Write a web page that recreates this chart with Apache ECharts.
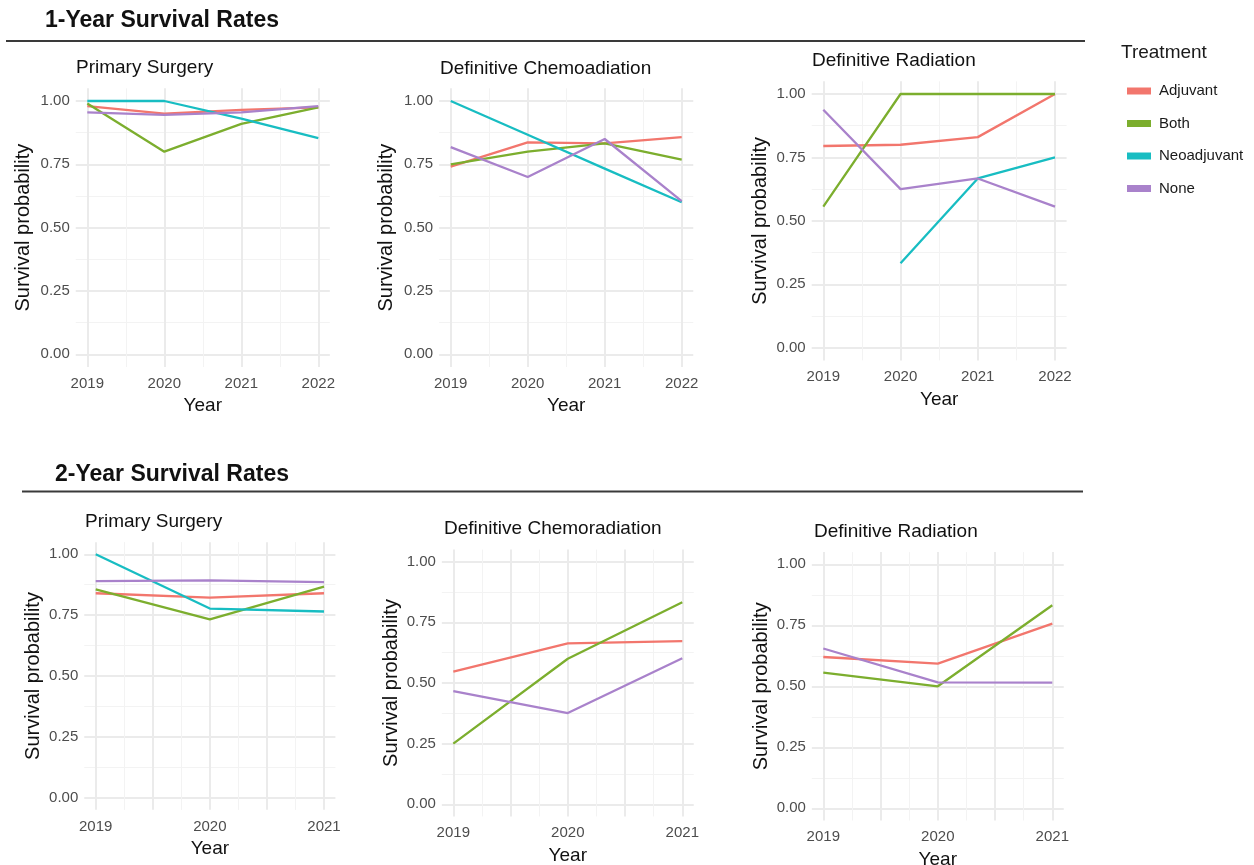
<!DOCTYPE html>
<html><head><meta charset="utf-8">
<script src="https://cdn.jsdelivr.net/npm/echarts@6/dist/echarts.min.js"></script>
<style>html,body{margin:0;padding:0;background:#fff}#c{width:1254px;height:865px}</style>
</head><body><div id="c"></div>
<script>
// ---------------- DATA ----------------
const treatments = ['Adjuvant', 'Both', 'Neoadjuvant', 'None'];
const years1 = [2019, 2020, 2021, 2022];
const years2 = [2019, 2020, 2021];
const yTickValues = [0, 0.25, 0.5, 0.75, 1];

const sectionTitles = ['1-Year Survival Rates', '2-Year Survival Rates'];
const panelTitles = ['Primary Surgery', 'Definitive Chemoadiation', 'Definitive Radiation',
                     'Primary Surgery', 'Definitive Chemoradiation', 'Definitive Radiation'];

// 1-year, Primary Surgery
const y1Surg_Adjuvant    = [0.98, 0.95, 0.965, 0.975];
const y1Surg_Both        = [0.99, 0.80, 0.91, 0.975];
const y1Surg_Neoadjuvant = [1.00, 1.00, 0.93, 0.853];
const y1Surg_None        = [0.955, 0.945, 0.955, 0.98];
// 1-year, Definitive Chemoradiation
const y1Chemo_Adjuvant    = [0.741, 0.837, 0.833, 0.857];
const y1Chemo_Both        = [0.75, 0.80, 0.833, 0.769];
const y1Chemo_Neoadjuvant = [1.00, 0.867, 0.733, 0.60];
const y1Chemo_None        = [0.818, 0.70, 0.85, 0.605];
// 1-year, Definitive Radiation
const y1Rad_Adjuvant    = [0.795, 0.80, 0.83, 1.00];
const y1Rad_Both        = [0.556, 1.00, 1.00, 1.00];
const y1Rad_Neoadjuvant = [null, 0.333, 0.667, 0.75];
const y1Rad_None        = [0.938, 0.625, 0.667, 0.556];
// 2-year, Primary Surgery
const y2Surg_Adjuvant    = [0.84, 0.822, 0.84];
const y2Surg_Both        = [0.856, 0.733, 0.867];
const y2Surg_Neoadjuvant = [1.00, 0.777, 0.765];
const y2Surg_None        = [0.89, 0.893, 0.886];
// 2-year, Definitive Chemoradiation
const y2Chemo_Adjuvant    = [0.547, 0.663, 0.673];
const y2Chemo_Both        = [0.25, 0.60, 0.833];
const y2Chemo_Neoadjuvant = [null, null, null];
const y2Chemo_None        = [0.467, 0.376, 0.602];
// 2-year, Definitive Radiation
const y2Rad_Adjuvant    = [0.62, 0.593, 0.757];
const y2Rad_Both        = [0.556, 0.50, 0.832];
const y2Rad_Neoadjuvant = [null, null, null];
const y2Rad_None        = [0.655, 0.516, 0.515];

// ---------------- STYLE / LAYOUT ----------------
const colors = ['#F2766D', '#7CAE2E', '#18BDC2', '#A982CB'];
const FONT = 'Liberation Sans, Arial, sans-serif';

const panels = [
  {years: years1, series: [y1Surg_Adjuvant, y1Surg_Both, y1Surg_Neoadjuvant, y1Surg_None],
   x0: 87.3, x1: 318.3, yTop: 101, yBot: 354.3, tX: 76, tY: 67.5, yTX: 23.3, xInt: 1},
  {years: years1, series: [y1Chemo_Adjuvant, y1Chemo_Both, y1Chemo_Neoadjuvant, y1Chemo_None],
   x0: 450.7, x1: 681.7, yTop: 101, yBot: 354.3, tX: 440, tY: 68.3, yTX: 386.7, xInt: 1},
  {years: years1, series: [y1Rad_Adjuvant, y1Rad_Both, y1Rad_Neoadjuvant, y1Rad_None],
   x0: 823.3, x1: 1055, yTop: 94, yBot: 347.7, tX: 812, tY: 60.8, yTX: 760, xInt: 1},
  {years: years2, series: [y2Surg_Adjuvant, y2Surg_Both, y2Surg_Neoadjuvant, y2Surg_None],
   x0: 95.7, x1: 324, yTop: 554.3, yBot: 797.7, tX: 85, tY: 521.5, yTX: 33.3, xInt: 0.5},
  {years: years2, series: [y2Chemo_Adjuvant, y2Chemo_Both, y2Chemo_Neoadjuvant, y2Chemo_None],
   x0: 453.3, x1: 682.3, yTop: 561.7, yBot: 804.3, tX: 444, tY: 528.3, yTX: 391.7, xInt: 0.5},
  {years: years2, series: [y2Rad_Adjuvant, y2Rad_Both, y2Rad_Neoadjuvant, y2Rad_None],
   x0: 823.3, x1: 1052.3, yTop: 564.3, yBot: 808.3, tX: 814, tY: 531.5, yTX: 761.7, xInt: 0.5}
];

const grid = [], xAxis = [], yAxis = [], series = [], graphic = [];

panels.forEach((p, i) => {
  const padX = 0.05 * (p.x1 - p.x0);
  const padY = 0.05 * (p.yBot - p.yTop);
  const L = p.x0 - padX, R = p.x1 + padX, T = p.yTop - padY, B = p.yBot + padY;
  const first = p.years[0], last = p.years[p.years.length - 1];

  // grid H : horizontal grid lines + y tick labels (spans full panel width)
  const gH = grid.length;
  grid.push({left: L, top: p.yTop, width: R - L, height: p.yBot - p.yTop});
  xAxis.push({gridIndex: gH, type: 'value', show: false, min: 0, max: 1,
              splitLine: {show: false}, axisLine: {show: false}});
  yAxis.push({
    gridIndex: gH, type: 'value', min: yTickValues[0], max: yTickValues[yTickValues.length - 1],
    interval: yTickValues[1] - yTickValues[0],
    axisLine: {show: false, onZero: false}, axisTick: {show: false},
    axisLabel: {color: '#4D4D4D', fontSize: 15, fontFamily: FONT, margin: 6,
                formatter: v => v.toFixed(2)},
    splitLine: {show: true, lineStyle: {color: '#EBEBEB', width: 2, opacity: 1}},
    minorTick: {show: false, splitNumber: 2},
    minorSplitLine: {show: true, lineStyle: {color: '#F3F3F3', width: 1, opacity: 1}}
  });

  // grid V : vertical grid lines + x tick labels + data (spans full panel height)
  const gV = grid.length;
  grid.push({left: p.x0, top: T, width: p.x1 - p.x0, height: B - T});
  const xi = xAxis.length;
  xAxis.push({
    gridIndex: gV, type: 'value', min: first, max: last, interval: p.xInt,
    axisLine: {show: false, onZero: false}, axisTick: {show: false},
    axisLabel: {color: '#4D4D4D', fontSize: 15, fontFamily: FONT, margin: 9,
                showMinLabel: true, showMaxLabel: true,
                formatter: v => (Math.abs(v - Math.round(v)) < 1e-6 ? String(Math.round(v)) : '')},
    splitLine: {show: true, lineStyle: {color: '#EBEBEB', width: 2, opacity: 1}},
    minorTick: {show: false, splitNumber: 2},
    minorSplitLine: {show: true, lineStyle: {color: '#F3F3F3', width: 1, opacity: 1}}
  });
  const yi = yAxis.length;
  yAxis.push({gridIndex: gV, type: 'value', show: false, min: -0.05, max: 1.05,
              splitLine: {show: false}, axisLine: {show: false, onZero: false}});

  treatments.forEach((t, k) => {
    const vals = p.series[k];
    if (vals.every(v => v === null)) return;
    series.push({
      type: 'line', name: t, xAxisIndex: xi, yAxisIndex: yi,
      data: p.years.map((yr, j) => [yr, vals[j] === null ? '-' : vals[j]]),
      showSymbol: false, symbol: 'none',
      lineStyle: {color: colors[k], width: 2.3},
      itemStyle: {color: colors[k]},
      z: 3 + k, silent: true
    });
  });

  // panel title
  graphic.push({type: 'text', x: p.tX, y: p.tY, z: 10,
    style: {text: panelTitles[i], fill: '#111', font: '19px ' + FONT,
            align: 'left', verticalAlign: 'middle'}});
  // y-axis title
  graphic.push({type: 'text', x: p.yTX, y: (p.yTop + p.yBot) / 2, rotation: Math.PI / 2, z: 10,
    style: {text: 'Survival probability', fill: '#111', font: '20px ' + FONT,
            align: 'center', verticalAlign: 'middle'}});
  // x-axis title
  graphic.push({type: 'text', x: (L + R) / 2, y: B + 39, z: 10,
    style: {text: 'Year', fill: '#111', font: '19px ' + FONT,
            align: 'center', verticalAlign: 'middle'}});
});

// section titles and rules
graphic.push({type: 'text', x: 45, y: 21, z: 10,
  style: {text: sectionTitles[0], fill: '#111', font: 'bold 23px ' + FONT, align: 'left', verticalAlign: 'middle'}});
graphic.push({type: 'line', shape: {x1: 6, y1: 41, x2: 1085, y2: 41}, z: 10,
  style: {stroke: '#3A3A3A', lineWidth: 2}});
graphic.push({type: 'text', x: 55, y: 475, z: 10,
  style: {text: sectionTitles[1], fill: '#111', font: 'bold 23px ' + FONT, align: 'left', verticalAlign: 'middle'}});
graphic.push({type: 'line', shape: {x1: 22, y1: 491.5, x2: 1083, y2: 491.5}, z: 10,
  style: {stroke: '#3A3A3A', lineWidth: 2}});
// legend title
graphic.push({type: 'text', x: 1121, y: 53, z: 10,
  style: {text: 'Treatment', fill: '#1A1A1A', font: '19px ' + FONT, align: 'left', verticalAlign: 'middle'}});

const chart = echarts.init(document.getElementById('c'), null, {renderer: 'canvas'});
chart.setOption({
  animation: false,
  backgroundColor: '#FFFFFF',
  grid, xAxis, yAxis, series, graphic,
  legend: {
    data: treatments, orient: 'vertical', left: 1122, top: 78,
    icon: 'rect', itemWidth: 24, itemHeight: 7, itemGap: 16.5,
    selectedMode: false,
    textStyle: {fontSize: 15, color: '#1A1A1A', fontFamily: FONT, padding: [0, 0, 0, 3], lineHeight: 16}
  }
});
</script>
</body></html>
